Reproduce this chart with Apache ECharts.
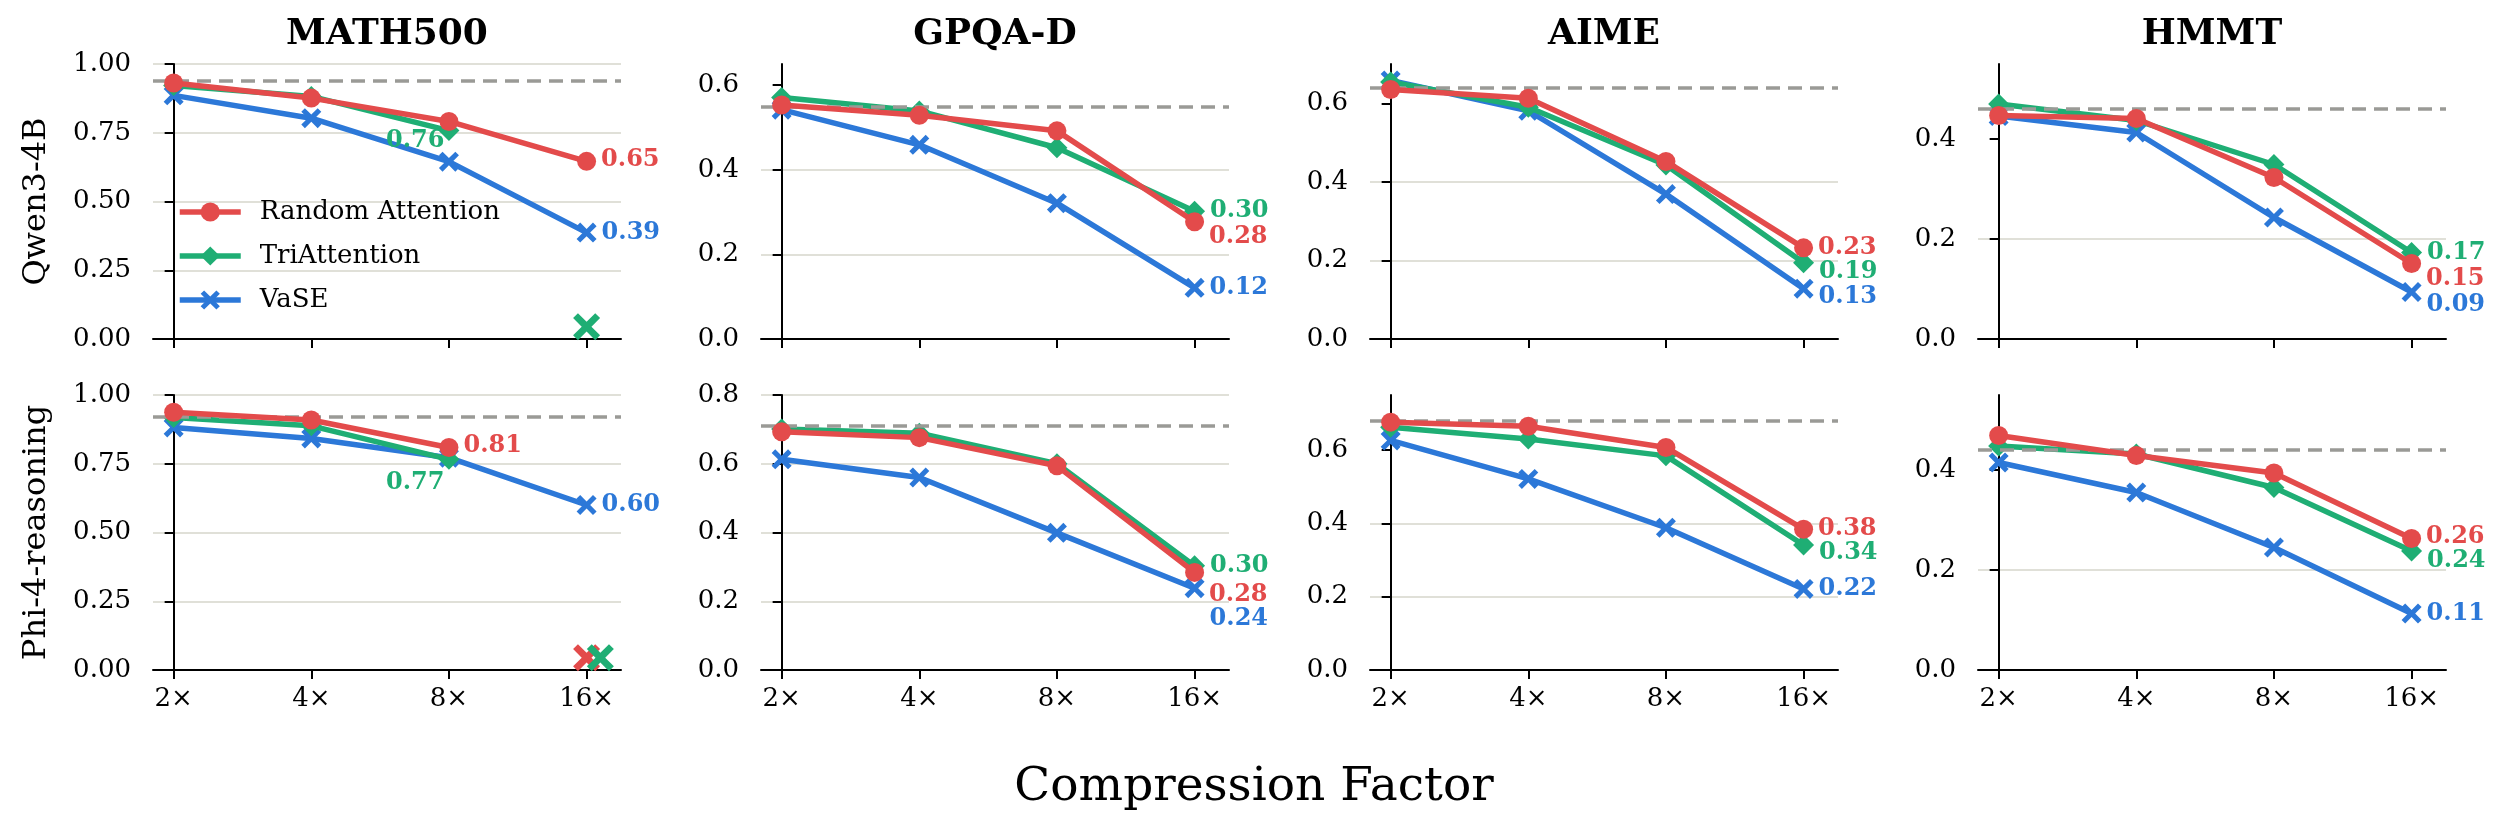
<!DOCTYPE html>
<html>
<head>
<meta charset="utf-8">
<title>Compression Factor</title>
<script src="https://cdn.jsdelivr.net/npm/echarts@6.0.0/dist/echarts.min.js"></script>
<style>
  html, body { margin: 0; padding: 0; background: #fff; }
  #main { width: 2507px; height: 834px; }
</style>
</head>
<body>
<div id="main"></div>
<script>
// categories
const factors = ['2×', '4×', '8×', '16×'];
const benchmarks = ['MATH500', 'GPQA-D', 'AIME', 'HMMT'];
const models = ['Qwen3-4B', 'Phi-4-reasoning'];
const methods = ['Random Attention', 'TriAttention', 'VaSE'];

// Qwen3-4B, one row per benchmark (2x, 4x, 8x, 16x); null = run failed
const qwenRandom = [
  [0.931, 0.876, 0.791, 0.646],
  [0.553, 0.529, 0.492, 0.277],
  [0.635, 0.613, 0.452, 0.232],
  [0.447, 0.441, 0.323, 0.151]
];
const qwenTri = [
  [0.922, 0.882, 0.758, null],
  [0.571, 0.539, 0.452, 0.302],
  [0.654, 0.590, 0.443, 0.194],
  [0.470, 0.437, 0.349, 0.173]
];
const qwenVase = [
  [0.886, 0.803, 0.645, 0.387],
  [0.542, 0.459, 0.321, 0.121],
  [0.658, 0.581, 0.369, 0.128],
  [0.446, 0.413, 0.243, 0.094]
];

// Phi-4-reasoning
const phiRandom = [
  [0.937, 0.909, 0.809, null],
  [0.693, 0.676, 0.594, 0.284],
  [0.676, 0.665, 0.607, 0.384],
  [0.469, 0.429, 0.394, 0.263]
];
const phiTri = [
  [0.918, 0.888, 0.766, null],
  [0.701, 0.689, 0.600, 0.303],
  [0.662, 0.630, 0.584, 0.341],
  [0.448, 0.432, 0.365, 0.238]
];
const phiVase = [
  [0.882, 0.842, 0.772, 0.600],
  [0.613, 0.560, 0.399, 0.238],
  [0.626, 0.521, 0.388, 0.221],
  [0.415, 0.355, 0.245, 0.113]
];

// full KV cache reference (dashed line)
const qwenFull = [0.940, 0.546, 0.642, 0.463];
const phiFull = [0.921, 0.706, 0.678, 0.444];

// failed runs drawn as a big cross near the bottom: [model, benchmark, method, x]
const failedRuns = [
  [0, 0, 1, 3],
  [1, 0, 0, 3],
  [1, 0, 1, 3.1]
];
const failY = 0.045;

// y axis ranges
const yMax = [[1.0, 0.65, 0.70, 0.55], [1.0, 0.80, 0.75, 0.55]];
const yStep = [0.25, 0.2, 0.2, 0.2];

const rows = [
  [qwenRandom, qwenTri, qwenVase, qwenFull],
  [phiRandom, phiTri, phiVase, phiFull]
];

// styling
const FONT = 'DejaVu Serif';
const colors = ['#e34b4b', '#1fae74', '#2c78d8'];
const crossPath = 'path://M1.8,0 L5,3.2 L8.2,0 L10,1.8 L6.8,5 L10,8.2 L8.2,10 L5,6.8 L1.8,10 L0,8.2 L3.2,5 L0,1.8 Z';
const symbols = ['circle', 'diamond', crossPath];
const symSizes = [19, 21, 20];
const gridLeft = [153, 761, 1370, 1978];
const gridTop = [64, 395];
const gridW = 468, gridH = 275;

// end label nudges (px, down is positive) [random, tri, vase]
const labelDy = [
  [[-2, 10, 0], [15, 0, 0], [0, 9, 8], [15, 0, 13]],
  [[-2, 23, 0], [22, 0, 31], [0, 8, 0], [-2, 10, 0]]
];

const grids = [], xAxes = [], yAxes = [], series = [];

for (let r = 0; r < 2; r++) {
  for (let c = 0; c < 4; c++) {
    const idx = r * 4 + c;
    grids.push({ left: gridLeft[c], top: gridTop[r], width: gridW, height: gridH });

    xAxes.push({
      type: 'value', gridIndex: idx, min: -0.15, max: 3.25,
      splitLine: { show: false },
      axisLine: { lineStyle: { color: '#000', width: 2 } },
      axisTick: { customValues: [0, 1, 2, 3], length: 9, lineStyle: { color: '#000', width: 2 } },
      axisLabel: {
        show: r === 1, customValues: [0, 1, 2, 3],
        formatter: v => factors[v],
        fontFamily: FONT, fontSize: 26, color: '#000', margin: 16
      }
    });

    const step = yStep[c];
    const max = yMax[r][c];
    const ticks = [];
    for (let v = 0; v <= max + 1e-9; v += step) ticks.push(+v.toFixed(2));
    const dec = c === 0 ? 2 : 1;
    yAxes.push({
      type: 'value', gridIndex: idx, min: 0, max: max, interval: step,
      axisLine: { show: true, lineStyle: { color: '#000', width: 2 } },
      axisTick: { show: true, customValues: ticks, length: 9, lineStyle: { color: '#000', width: 2 } },
      axisLabel: {
        customValues: ticks,
        formatter: v => v.toFixed(dec),
        fontFamily: FONT, fontSize: 26, color: '#000', margin: 22
      },
      splitLine: {
        show: true,
        showMaxLine: Math.abs(ticks[ticks.length - 1] - max) < 1e-6,
        lineStyle: { color: '#e0e0d8', width: 2 }
      }
    });

    // draw VaSE first, Random on top
    [2, 1, 0].forEach(m => {
      const vals = rows[r][m][c];
      let last = -1;
      vals.forEach((v, i) => { if (v !== null) last = i; });
      const data = [];
      vals.forEach((v, i) => {
        if (v === null) return;
        const pt = { value: [i, v] };
        if (i === last) {
          const leftSide = (c === 0 && m === 1);
          pt.label = {
            show: true,
            position: leftSide ? 'left' : 'right',
            distance: leftSide ? 0 : 5,
            offset: [leftSide ? 6 : 0, labelDy[r][c][m]],
            formatter: v.toFixed(2),
            color: colors[m], fontFamily: FONT, fontWeight: 'bold', fontSize: 24
          };
        }
        data.push(pt);
      });
      const s = {
        name: methods[m], type: 'line',
        xAxisIndex: idx, yAxisIndex: idx,
        data: data,
        symbol: symbols[m], symbolSize: symSizes[m],
        lineStyle: { color: colors[m], width: 5.5 },
        itemStyle: { color: colors[m] },
        label: { show: false },
        z: 3 + (2 - m),
        animation: false
      };
      if (m === 2) {
        s.markLine = {
          silent: true, symbol: ['none', 'none'],
          label: { show: false },
          lineStyle: { type: [14, 8], color: '#9a9a96', width: 3.5 },
          data: [{ yAxis: rows[r][3][c] }],
          animation: false
        };
      }
      series.push(s);
    });
  }
}

failedRuns.forEach(f => {
  const idx = f[0] * 4 + f[1];
  series.push({
    name: methods[f[2]] + ' failed', type: 'scatter',
    xAxisIndex: idx, yAxisIndex: idx,
    data: [[f[3], failY]],
    symbol: crossPath, symbolSize: 27,
    itemStyle: { color: colors[f[2]], opacity: 1 },
    z: 8, animation: false
  });
});

const graphics = [];
benchmarks.forEach((b, c) => {
  graphics.push({
    type: 'text',
    style: {
      x: gridLeft[c] + gridW / 2, y: 35, text: b,
      font: 'bold 36px "' + FONT + '"', fill: '#000',
      align: 'center', verticalAlign: 'middle'
    }
  });
});
models.forEach((name, r) => {
  graphics.push({
    type: 'text', x: 37, y: gridTop[r] + gridH / 2, rotation: Math.PI / 2,
    style: {
      x: 0, y: 0, text: name,
      font: '32px "' + FONT + '"', fill: '#000',
      align: 'center', verticalAlign: 'middle'
    }
  });
});
graphics.push({
  type: 'text',
  style: {
    x: 1254, y: 788, text: 'Compression Factor',
    font: '47px "' + FONT + '"', fill: '#000',
    align: 'center', verticalAlign: 'middle'
  }
});

const chart = echarts.init(document.getElementById('main'), null, { renderer: 'canvas' });
chart.setOption({
  animation: false,
  textStyle: { fontFamily: FONT },
  grid: grids,
  xAxis: xAxes,
  yAxis: yAxes,
  legend: {
    data: methods,
    orient: 'vertical',
    left: 177, top: 199,
    padding: 0,
    itemWidth: 61, itemHeight: 24, itemGap: 18,
    lineStyle: { width: 5.5 },
    textStyle: { fontFamily: FONT, fontSize: 26, color: '#000', padding: [0, 0, 0, 14] }
  },
  graphic: graphics,
  series: series
});
</script>
</body>
</html>
